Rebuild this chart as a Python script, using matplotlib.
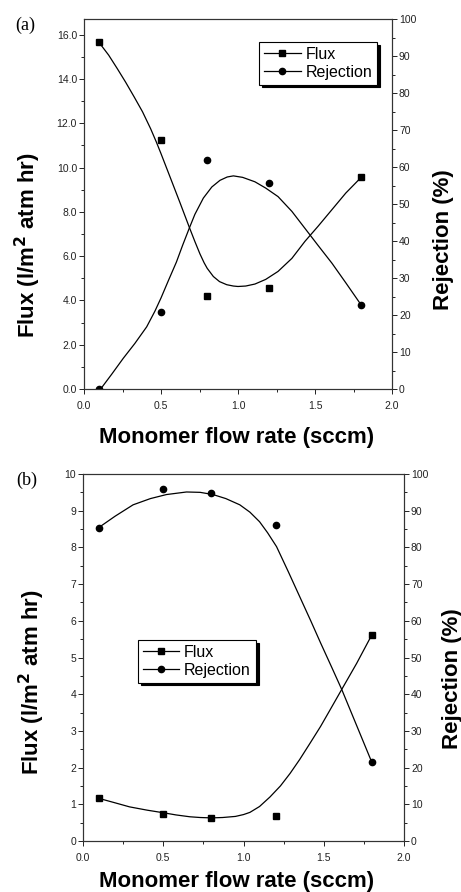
import numpy as np
import matplotlib
matplotlib.use("Agg")
import matplotlib.pyplot as plt
from matplotlib.lines import Line2D
from matplotlib.ticker import MultipleLocator, FormatStrFormatter

plt.rcParams['font.family'] = ['Liberation Sans', 'DejaVu Sans']

# measured points
x_pts = [0.1, 0.5, 0.8, 1.2, 1.8]
flux_a = [15.65, 11.25, 4.18, 4.58, 9.56]
rej_a = [0.0, 20.7, 61.9, 55.6, 22.7]
flux_b = [1.16, 0.74, 0.63, 0.67, 5.62]
rej_b = [85.4, 95.9, 94.8, 86.2, 21.4]

# fitted curves
fa_x = [0.10, 0.16, 0.216, 0.27, 0.325, 0.38, 0.433, 0.47, 0.50, 0.563, 0.623, 0.684, 0.72, 0.753,
        0.78, 0.80, 0.84, 0.88, 0.927, 0.97, 1.00, 1.05, 1.11, 1.18, 1.26, 1.35, 1.435, 1.52, 1.61,
        1.70, 1.80]
fa_y = [15.63, 15.08, 14.47, 13.86, 13.2, 12.52, 11.75, 11.15, 10.63, 9.5, 8.42, 7.3, 6.66, 6.1,
        5.7, 5.45, 5.08, 4.85, 4.71, 4.65, 4.63, 4.65, 4.74, 4.95, 5.31, 5.9, 6.67, 7.35, 8.1,
        8.85, 9.56]
ra_x = [0.108, 0.18, 0.255, 0.33, 0.407, 0.46, 0.50, 0.55, 0.60, 0.64, 0.684, 0.72, 0.775, 0.83,
        0.883, 0.93, 0.97, 1.03, 1.11, 1.18, 1.26, 1.35, 1.435, 1.52, 1.61, 1.70, 1.80]
ra_y = [0.0, 4.0, 8.3, 12.3, 16.8, 21.0, 24.6, 29.5, 34.3, 38.8, 43.5, 47.2, 51.6, 54.6,
        56.4, 57.3, 57.6, 57.2, 56.0, 54.3, 52.0, 48.0, 43.4, 38.8, 34.0, 28.7, 22.7]

fb_x = [0.10, 0.20, 0.29, 0.40, 0.50, 0.58, 0.666, 0.73, 0.80, 0.87, 0.95, 1.00, 1.04, 1.10,
        1.165, 1.23, 1.29, 1.35, 1.414, 1.48, 1.539, 1.612, 1.705, 1.80]
fb_y = [1.16, 1.04, 0.93, 0.84, 0.77, 0.71, 0.66, 0.64, 0.63, 0.64, 0.67, 0.72, 0.78, 0.94,
        1.20, 1.50, 1.84, 2.22, 2.66, 3.12, 3.57, 4.13, 4.84, 5.62]
rb_x = [0.098, 0.20, 0.312, 0.42, 0.52, 0.645, 0.73, 0.81, 0.89, 0.977, 1.04, 1.10, 1.15, 1.206,
        1.28, 1.35, 1.42, 1.48, 1.55, 1.612, 1.716, 1.80]
rb_y = [85.4, 88.5, 91.6, 93.3, 94.4, 95.1, 95.0, 94.4, 93.3, 91.6, 89.6, 87.0, 84.0, 80.2,
        73.3, 66.6, 59.9, 54.0, 47.3, 41.3, 30.3, 21.4]

W, H = 461, 892
fig = plt.figure(figsize=(W / 100, H / 100), dpi=100)


def setup(ax, ax2, ylim, ymaj, ymin, yfmt):
    ax.set_xlim(0, 2.0)
    ax.set_ylim(*ylim)
    ax2.set_ylim(0, 100)
    ax.xaxis.set_major_locator(MultipleLocator(0.5))
    ax.xaxis.set_minor_locator(MultipleLocator(0.25))
    ax.xaxis.set_major_formatter(FormatStrFormatter('%.1f'))
    ax.yaxis.set_major_locator(MultipleLocator(ymaj))
    ax.yaxis.set_minor_locator(MultipleLocator(ymin))
    ax.yaxis.set_major_formatter(FormatStrFormatter(yfmt))
    ax2.yaxis.set_major_locator(MultipleLocator(10))
    ax2.yaxis.set_minor_locator(MultipleLocator(5))
    for a in (ax, ax2):
        a.tick_params(which='major', direction='out', length=3.5, width=0.7,
                      labelsize=7.5, pad=1.5, colors='#222222')
        a.tick_params(which='minor', direction='out', length=2, width=0.6)
        for s in a.spines.values():
            s.set_linewidth(0.8)
            s.set_color('#333333')
    ax.tick_params(axis='x', top=False, pad=5)


def panel(rect, fx, fy, rx, ry, fp, rp, ylim, ymaj, ymin, yfmt, leg_loc, leg_anchor):
    ax = fig.add_axes(rect)
    ax2 = ax.twinx()
    ax.plot(fx, fy, color='black', lw=0.9)
    ax.plot(x_pts, fp, 's', color='black', ms=4.3)
    ax2.plot(rx, ry, color='black', lw=0.9)
    ax2.plot(x_pts, rp, 'o', color='black', ms=4.5)
    setup(ax, ax2, ylim, ymaj, ymin, yfmt)
    handles = [Line2D([], [], color='black', lw=0.9, marker='s', ms=4.3),
               Line2D([], [], color='black', lw=0.9, marker='o', ms=4.5)]
    leg = ax2.legend(handles, ['Flux', 'Rejection'], loc=leg_loc, bbox_to_anchor=leg_anchor,
                     borderaxespad=0, fontsize=11.5, handlelength=2.3, handletextpad=0.3,
                     borderpad=0.3, labelspacing=0.2, fancybox=False, framealpha=1,
                     shadow={'color': 'black', 'alpha': 1})
    leg.get_frame().set_edgecolor('black')
    leg.get_frame().set_linewidth(0.8)
    return ax, ax2


panel([84 / W, 1 - 389 / H, 308 / W, 370 / H], fa_x, fa_y, ra_x, ra_y, flux_a, rej_a,
      (0, 16.71), 2, 1, '%.1f', 'upper right', (0.951, 0.938))
panel([83 / W, 1 - 841 / H, 321 / W, 367 / H], fb_x, fb_y, rb_x, rb_y, flux_b, rej_b,
      (0, 10), 1, 0.5, '%d', 'upper left', (0.171, 0.548))

lab = dict(fontsize=16, fontweight='bold', ha='center', va='center')
fig.text(28 / W, 1 - 245 / H, 'Flux (l/m$^\\mathbf{2}$ atm hr)', rotation=90, **lab)
fig.text(443 / W, 1 - 240 / H, 'Rejection (%)', rotation=90, **lab)
fig.text(236.5 / W, 1 - 437 / H, 'Monomer flow rate (sccm)', **lab)
fig.text(32 / W, 1 - 682 / H, 'Flux (l/m$^\\mathbf{2}$ atm hr)', rotation=90, **lab)
fig.text(452 / W, 1 - 679 / H, 'Rejection (%)', rotation=90, **lab)
fig.text(236.5 / W, 1 - 881 / H, 'Monomer flow rate (sccm)', **lab)

fig.text(25 / W, 1 - 25 / H, '(a)', family='Liberation Serif', fontsize=13, ha='center', va='center')
fig.text(27 / W, 1 - 480 / H, '(b)', family='Liberation Serif', fontsize=13, ha='center', va='center')

fig.savefig('out.png', dpi=100)
